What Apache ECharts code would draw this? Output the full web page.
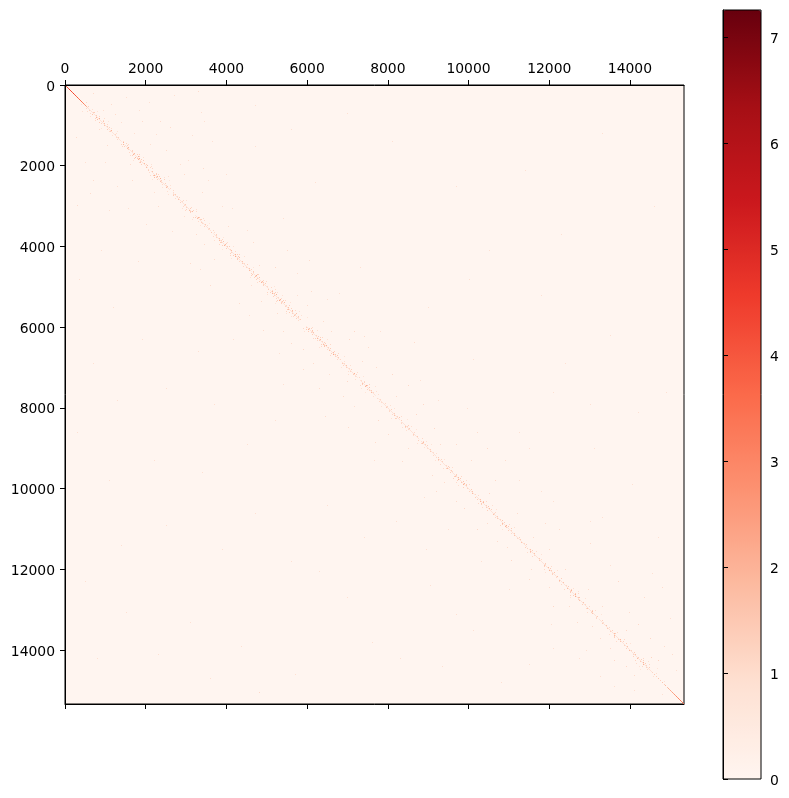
<!DOCTYPE html>
<html>
<head>
<meta charset="utf-8">
<title>Contact matrix</title>
<script src="https://cdn.jsdelivr.net/npm/echarts@6/dist/echarts.min.js"></script>
<style>
  html, body { margin: 0; padding: 0; background: #fff; }
  #chart { width: 789px; height: 798px; }
</style>
</head>
<body>
<div id="chart"></div>
<script>
const matrixSize = 15340;
const binWidth = 25;
const xTicks = [0, 2000, 4000, 6000, 8000, 10000, 12000, 14000];
const yTicks = [0, 2000, 4000, 6000, 8000, 10000, 12000, 14000];
const barTicks = [0, 1, 2, 3, 4, 5, 6, 7];
const barMax = 7.26;
const reds = ["#fff5f0", "#fee0d2", "#fcbba1", "#fc9272", "#fb6a4a", "#ef3b2c", "#cb181d", "#a50f15", "#67000d"];

// faint thread of the diagonal, null = visible gap
const diagThread = [550, 1400, null, 1480, 2050, null, 2130, 2600, null, 2680, 3150, null, 3230, 3620, null, 3680, 4620, null, 4660, 5050, null, 5090, 5820, null, 5980, 6800, null, 6860, 7250, null, 7310, 7700, null, 7770, 8300, null, 8350, 8780, null, 8820, 9200, null, 9260, 10150, null, 10190, 11450, null, 11500, 12200, null, 12250, 13180, null, 13230, 14550];

// strong start and end of the diagonal: position, value
const diagStart = [
  [25,3.6],[50,4.2],[75,3.9],[100,4.4],[125,4.1],[150,4.3],[175,3.7],[200,4.5],[225,3.8],[250,4.0],
  [275,3.5],[300,3.9],[325,3.3],[350,3.6],[375,3.2],[400,3.4],[425,3.0],[450,3.1],[475,2.5],[500,2.7],
  [525,2.0],[550,2.2],[575,1.7],[600,1.9],[625,1.5],[650,1.7],[675,1.3],[700,1.6],[725,1.2],[750,1.5],
  [775,1.1],[800,1.4],[825,1.2],[850,1.6],[875,1.0],[900,1.3],[925,1.0],[950,1.2]
];
const diagEnd = [
  [14550,1.2],[14600,1.4],[14650,1.2],[14700,1.5],[14750,1.3],[14800,1.6],[14850,1.4],[14875,1.8],[14925,1.6],[14950,2.0],
  [14975,1.7],[15000,2.2],[15025,1.9],[15050,2.4],[15075,2.1],[15100,2.6],[15125,2.3],[15150,2.8],[15175,2.5],[15200,3.0],
  [15225,2.7],[15250,3.2],[15275,2.9],[15300,3.3],[15325,3.4]
];

// speckles next to the diagonal: position, offset from it, value
const nearDiag = [
  [420,100,1.1],[470,-75,.9],[520,50,1.3],[560,-50,1.1],[600,75,.9],[640,-100,1.0],[680,50,1.4],[720,-50,1.6],[760,75,1.2],[790,-25,2.0],
  [820,25,2.2],[850,-50,1.8],[880,50,1.6],[910,-75,1.4],[940,25,1.6],[970,75,1.1],[1000,-25,1.6],[1040,50,1.3],[1080,-50,1.4],[1110,25,2.0],
  [1150,-25,1.3],[1190,75,.9],[1230,-75,.9],[1280,25,1.3],[1350,-50,1.1],[1420,25,2.0],[1450,-25,1.8],[1490,50,1.3],[1530,25,2.0],[1560,-25,1.8],
  [1600,50,1.3],[1650,-75,1.1],[1690,25,1.8],[1720,-25,2.0],[1750,50,2.0],[1780,-50,1.8],[1810,25,2.2],[1840,-25,2.0],[1870,75,1.4],[1900,-50,1.6],
  [1930,25,1.8],[1960,-75,1.3],[1990,50,1.6],[2030,-25,1.8],[2060,100,1.1],[2100,-50,1.3],[2140,25,1.6],[2190,75,1.3],[2220,-25,2.0],[2250,25,2.0],
  [2280,-75,1.8],[2310,50,2.0],[2340,125,1.3],[2370,-25,1.6],[2420,50,1.3],[2460,-50,1.1],[2500,25,1.6],[2540,-25,1.8],[2590,75,1.1],[2630,-100,.9],
  [2690,25,1.4],[2730,-50,1.4],[2780,50,1.3],[2820,-25,1.6],[2860,75,1.1],[2900,-50,1.3],[2950,25,1.4],[2990,-75,1.1],[3030,100,1.1],[3060,50,1.4],
  [3090,-25,1.8],[3120,25,1.8],[3140,-50,1.3],[3260,25,2.0],[3290,-25,1.8],[3320,50,1.4],[3350,100,1.1],[3400,-25,1.3],[3450,25,1.4],[3500,-50,1.3],
  [3550,25,1.3],[3600,75,1.1],[3650,-25,1.4],[3700,50,1.3],[3740,-75,1.1],[3790,25,1.6],[3830,-25,1.8],[3870,50,1.6],[3900,-50,1.4],[3940,25,1.8],
  [3970,-25,2.0],[4000,75,1.4],[4040,-50,1.4],[4080,25,1.8],[4120,100,1.1],[4160,-75,1.3],[4200,25,2.0],[4230,-25,2.2],[4270,50,1.8],[4310,-50,1.4],
  [4350,25,1.6],[4400,-25,1.4],[4440,75,1.3],[4490,-75,1.1],[4530,25,1.6],[4580,-25,1.8],[4620,50,1.4],[4650,-50,1.3],[4700,25,2.2],[4730,-25,1.8],
  [4770,50,1.6],[4810,-75,1.3],[4850,25,1.8],[4875,-25,2.0],[4910,50,1.4],[4950,-50,1.3],[5000,100,1.1],[5050,-25,1.4],[5100,25,1.8],[5150,-25,2.0],
  [5180,50,2.0],[5220,-75,1.3],[5270,75,1.1],[5310,25,2.0],[5340,-25,2.2],[5370,50,1.8],[5410,-50,1.3],[5460,100,1.3],[5500,25,1.6],[5550,-25,1.8],
  [5580,50,1.8],[5620,-75,1.4],[5660,75,1.6],[5700,-25,1.6],[5730,50,1.4],[5770,-50,1.3],[5800,25,1.3],[6010,25,1.6],[6040,-25,2.0],[6070,50,1.6],
  [6100,-75,1.4],[6130,25,1.6],[6170,-50,1.4],[6210,50,1.4],[6260,-25,2.0],[6290,25,1.8],[6330,-75,1.1],[6370,50,1.3],[6410,-25,1.8],[6440,25,2.0],
  [6480,-50,1.6],[6520,50,1.4],[6570,-25,1.6],[6620,25,1.8],[6660,-25,2.2],[6700,50,1.6],[6740,25,1.4],[6800,-50,1.1],[6850,75,.9],[6900,-25,1.4],
  [6930,25,1.6],[6980,-25,1.3],[7030,50,1.3],[7080,-75,.9],[7130,25,2.0],[7170,-25,1.4],[7230,50,1.1],[7280,-100,.9],[7330,75,1.1],[7380,-25,1.6],
  [7425,25,2.2],[7450,-25,2.0],[7490,50,1.6],[7530,-50,1.3],[7570,25,1.4],[7600,-25,1.8],[7660,100,.9],[7710,-75,.9],[7770,25,1.1],[7830,-50,1.1],
  [7880,50,1.1],[7930,125,.9],[7990,-25,1.4],[8030,50,1.3],[8080,-50,1.1],[8130,25,1.3],[8180,-25,1.6],[8220,50,1.6],[8260,-75,1.3],[8310,25,1.3],
  [8370,-50,1.1],[8420,75,1.3],[8460,-25,1.6],[8500,25,1.4],[8550,-100,.9],[8600,50,1.1],[8650,-25,1.3],[8700,25,1.4],[8750,100,1.1],[8800,-50,1.3],
  [8840,25,1.8],[8880,-25,1.6],[8920,50,1.3],[8970,-75,.9],[9020,25,1.3],[9070,-25,1.4],[9120,75,.9],[9170,-50,1.1],[9230,25,1.4],[9280,-25,1.6],
  [9330,25,1.3],[9380,-75,1.1],[9430,50,1.4],[9480,-25,1.8],[9530,25,1.4],[9580,-50,1.3],[9630,50,1.3],[9680,-25,1.6],[9720,25,1.8],[9760,-25,2.0],
  [9810,50,1.6],[9860,25,1.8],[9900,-25,2.0],[9950,-75,1.3],[10000,50,1.4],[10050,25,1.6],[10100,-25,1.8],[10150,75,1.1],[10200,-50,1.3],[10250,25,1.6],
  [10300,-25,2.0],[10340,25,2.0],[10380,-75,1.3],[10430,50,1.6],[10480,25,1.8],[10520,-50,1.3],[10570,75,1.1],[10620,-25,1.6],[10680,25,1.4],[10730,-25,1.4],
  [10790,50,1.6],[10850,-25,1.8],[10900,25,2.0],[10940,-25,2.0],[10990,75,1.4],[11040,-50,1.3],[11090,25,1.4],[11140,-25,1.6],[11200,50,1.3],[11260,25,1.4],
  [11320,-25,1.6],[11380,50,1.3],[11440,-50,1.3],[11500,25,1.6],[11550,-25,1.8],[11610,25,1.6],[11660,-75,1.1],[11720,25,1.4],[11780,-25,1.4],[11840,50,1.4],
  [11900,-25,1.6],[11950,25,1.8],[12010,-25,2.0],[12060,50,1.6],[12120,-50,1.3],[12170,25,1.6],[12220,75,1.3],[12270,-25,1.8],[12320,25,1.6],[12370,-75,1.1],
  [12420,50,1.4],[12470,-25,1.8],[12520,25,2.0],[12570,-50,1.4],[12620,25,2.0],[12660,-25,2.2],[12700,50,1.6],[12760,-25,1.6],[12810,25,1.6],[12870,-50,1.3],
  [12920,75,1.1],[12970,-25,1.6],[13030,25,1.8],[13090,-25,1.6],[13150,25,1.4],[13210,-50,1.1],[13270,50,1.3],[13330,-25,1.4],[13390,25,1.6],[13450,-25,1.4],
  [13510,50,1.3],[13570,25,1.8],[13630,-25,1.8],[13690,-75,1.3],[13740,25,1.8],[13790,-25,1.6],[13840,75,1.3],[13900,25,1.6],[13950,-50,1.3],[14010,-25,1.8],
  [14060,50,1.4],[14110,25,1.6],[14160,-75,1.3],[14210,-25,1.8],[14260,75,1.3],[14300,25,2.0],[14340,-25,2.0],[14390,-100,1.1],[14430,50,1.4],[14480,-50,1.1],[14560,75,.9],[14640,-75,.9],[14760,75,.8]
];

// second, wider ring of paler speckles round the same clusters
const nearOuter = [
  [640,150,.8],[760,-150,.8],[830,125,1.0],[870,-125,1.1],[900,175,.7],[1060,-175,.7],[1130,150,.8],[1460,100,1.0],[1510,-100,1.1],[1700,125,1.2],
  [1740,-125,1.0],[1790,150,.9],[1820,-100,1.3],[1860,-175,.8],[1950,175,.8],[2010,125,1.0],[2210,100,1.2],[2240,-125,1.1],[2270,175,.9],[2330,-175,.8],
  [2360,225,.7],[2480,125,.8],[2520,-125,.8],[2700,-150,.8],[2840,150,.8],[3040,-150,.9],[3080,175,.9],[3110,-125,1.1],[3130,125,1.0],[3270,-100,1.2],
  [3300,125,1.0],[3310,-175,.8],[3430,150,.7],[3480,-125,.7],[3760,150,.7],[3850,-150,.9],[3880,125,1.0],[3950,-125,1.1],[3990,175,.8],[4060,-175,.7],
  [4190,125,1.2],[4220,-125,1.2],[4250,175,.9],[4290,-175,.8],[4520,150,.7],[4690,100,1.2],[4710,-100,1.3],[4760,-175,.8],[4860,125,1.1],[4890,-125,1.0],
  [4980,200,.7],[5120,125,1.0],[5140,-125,1.2],[5170,-175,.9],[5200,175,.8],[5320,125,1.1],[5350,-125,1.1],[5380,200,.8],[5400,-200,.7],[5570,125,1.1],
  [5590,-125,1.2],[5610,200,.8],[5640,-175,.8],[5690,150,.8],[5720,-125,.9],[5760,225,.7],[6000,125,1.0],[6030,-125,1.1],[6060,175,.9],[6090,-175,.8],
  [6250,125,1.1],[6270,-125,1.1],[6300,200,.8],[6430,125,1.1],[6460,-125,1.1],[6500,-200,.8],[6650,125,1.1],[6680,-125,1.1],[6720,200,.8],[6950,125,.9],
  [7000,-150,.8],[7120,125,1.0],[7150,-125,.9],[7200,175,.7],[7410,125,1.2],[7440,-125,1.1],[7470,200,.8],[7510,-175,.8],[7590,125,.9],[7620,-175,.7],
  [7960,-125,.8],[8010,150,.8],[8210,125,1.0],[8240,-150,.9],[8280,200,.7],[8450,125,.9],[8480,-125,.9],[8520,175,.7],[8830,125,.9],[8860,-125,.9],
  [8900,175,.7],[9260,125,.8],[9300,-125,.8],[9470,125,1.0],[9500,-125,1.0],[9700,125,1.1],[9740,-125,1.2],[9780,150,1.0],[9830,-150,1.0],[9880,125,1.1],
  [9920,-175,.9],[10320,125,1.1],[10350,-125,1.1],[10400,175,.9],[10460,-125,1.0],[10500,175,.8],[10870,125,1.1],[10910,-125,1.2],[10960,175,.9],[11010,-175,.8],
  [11540,125,1.0],[11570,-125,1.0],[11620,175,.8],[11930,125,1.0],[11990,-125,1.1],[12030,175,.9],[12080,-175,.8],[12460,125,.9],[12500,-125,1.1],[12540,175,.9],
  [12600,125,1.1],[12640,-125,1.2],[12680,-175,.9],[12720,175,.8],[13010,125,1.0],[13050,-125,1.0],[13110,175,.7],[13550,125,1.0],[13600,-125,.9],[13720,125,1.1],
  [13770,-125,1.0],[13820,175,.8],[14190,125,1.1],[14240,-125,1.2],[14280,175,.9],[14320,-175,1.0],[14360,125,1.1],[14410,-175,.8],[14440,225,.7],[14470,-225,.7]
];

// pale fill inside the band, between the stronger speckles
const nearFill = [
  [610,-25,1.2],[660,25,1.3],[700,-75,1.0],[740,25,1.4],[810,-75,1.2],[860,75,1.1],[930,-50,1.2],[1020,25,1.3],[1060,75,1.0],[1130,-50,1.0],
  [1210,25,1.1],[1300,-25,1.1],[1380,50,1.0],[1440,75,1.2],[1470,-75,1.2],[1520,-50,1.3],[1590,-25,1.2],[1640,25,1.2],[1710,75,1.3],[1730,-75,1.3],
  [1770,75,1.2],[1800,-25,1.5],[1830,50,1.4],[1880,-25,1.2],[1920,-75,1.1],[1970,25,1.2],[2020,75,1.1],[2090,-25,1.1],[2160,-75,1.0],[2210,50,1.4],
  [2230,-50,1.5],[2260,75,1.4],[2290,-25,1.5],[2320,-50,1.3],[2350,25,1.3],[2410,-25,1.1],[2470,25,1.1],[2560,50,1.1],[2650,25,1.0],[2710,-25,1.1],
  [2760,25,1.1],[2810,-75,1.0],[2880,25,1.1],[2970,-25,1.1],[3020,-25,1.2],[3070,-75,1.2],[3100,75,1.2],[3130,-25,1.4],[3270,-50,1.4],[3280,50,1.4],
  [3310,25,1.3],[3380,-75,1.0],[3430,-25,1.1],[3480,50,1.0],[3570,-25,1.0],[3640,50,1.0],[3720,25,1.1],[3770,-25,1.2],[3810,75,1.2],[3850,25,1.3],
  [3880,-25,1.4],[3920,75,1.3],[3960,-75,1.3],[3990,25,1.4],[4060,25,1.2],[4140,-25,1.2],[4190,75,1.4],[4210,-50,1.5],[4240,50,1.5],[4290,-25,1.3],
  [4370,-50,1.1],[4420,25,1.1],[4510,-25,1.2],[4560,50,1.2],[4640,25,1.2],[4680,-50,1.4],[4690,75,1.4],[4720,25,1.5],[4750,-75,1.2],[4790,-25,1.3],
  [4830,75,1.2],[4860,-50,1.4],[4890,25,1.4],[4930,-25,1.2],[4980,25,1.1],[5070,50,1.1],[5120,-50,1.3],[5130,75,1.3],[5160,25,1.5],[5200,-25,1.3],
  [5250,25,1.1],[5290,-50,1.2],[5320,75,1.4],[5330,-75,1.4],[5360,25,1.5],[5390,-25,1.3],[5440,25,1.1],[5480,-25,1.2],[5530,75,1.2],[5560,-50,1.4],
  [5600,25,1.4],[5640,-25,1.3],[5680,25,1.3],[5720,-75,1.1],[5750,25,1.1],[5820,-50,1.0],[6000,-25,1.3],[6030,75,1.3],[6050,-75,1.4],[6090,25,1.3],
  [6120,-25,1.2],[6190,25,1.2],[6240,75,1.3],[6270,-75,1.3],[6310,-25,1.3],[6350,25,1.1],[6400,50,1.3],[6420,-75,1.3],[6450,-25,1.5],[6500,25,1.2],
  [6550,-50,1.1],[6600,75,1.3],[6640,-50,1.4],[6670,25,1.5],[6720,-25,1.2],[6780,25,1.1],[6880,25,1.1],[6950,-50,1.2],[7010,25,1.1],[7100,-25,1.2],
  [7150,50,1.3],[7200,-25,1.0],[7310,25,1.0],[7360,50,1.2],[7400,-50,1.4],[7440,50,1.5],[7470,-25,1.3],[7550,-25,1.2],[7620,25,1.1],[7750,-25,1.0],
  [7860,-25,1.0],[7960,25,1.1],[8050,-25,1.0],[8150,-50,1.1],[8200,25,1.2],[8240,-25,1.2],[8340,-25,1.0],[8440,25,1.2],[8480,-50,1.2],[8530,-25,1.1],
  [8680,-50,1.0],[8820,50,1.2],[8860,-50,1.2],[8900,25,1.2],[9000,-25,1.0],[9100,25,1.0],[9210,-25,1.1],[9260,50,1.2],[9300,-50,1.1],[9410,25,1.1],
  [9460,50,1.3],[9500,-50,1.3],[9560,25,1.1],[9660,25,1.2],[9700,-50,1.4],[9740,50,1.5],[9780,-75,1.3],[9840,-25,1.5],[9880,50,1.4],[9920,25,1.4],
  [9980,-25,1.2],[10070,-50,1.2],[10130,25,1.1],[10270,-50,1.3],[10320,50,1.5],[10360,-50,1.4],[10410,25,1.3],[10460,-25,1.4],[10500,50,1.3],[10600,25,1.1],
  [10700,-50,1.1],[10760,25,1.2],[10830,50,1.3],[10870,-50,1.4],[10920,50,1.5],[10960,-25,1.4],[11020,25,1.2],[11110,-50,1.1],[11230,-25,1.1],[11350,25,1.1],
  [11480,-25,1.2],[11530,50,1.3],[11570,-50,1.3],[11640,-25,1.1],[11750,50,1.0],[11870,25,1.1],[11930,-50,1.3],[11980,50,1.4],[12030,25,1.4],[12090,-25,1.2],
  [12200,-25,1.1],[12300,-50,1.2],[12400,25,1.1],[12490,50,1.3],[12540,-25,1.4],[12590,50,1.4],[12640,-50,1.4],[12680,25,1.5],[12740,-25,1.2],[12850,25,1.1],
  [12950,-50,1.1],[13010,50,1.3],[13060,-25,1.3],[13180,-25,1.1],[13300,25,1.0],[13420,50,1.1],[13540,-25,1.3],[13590,50,1.3],[13650,-50,1.2],[13720,-25,1.4],
  [13770,50,1.3],[13880,-25,1.2],[13990,25,1.2],[14090,-25,1.2],[14180,25,1.3],[14230,50,1.3],[14270,-25,1.4],[14320,50,1.4],[14370,25,1.2],[14420,-25,1.2]
];

// sparse faint cells away from the diagonal: x, y, value
const farCells = [
  [700,200,1.0],[1150,480,1.0],[1500,300,.9],[2080,420,.9],[2700,250,.9],[3380,680,.9],[3300,160,1.0],[4700,500,.9],[3450,900,.9],[1900,900,1.0],
  [2600,1050,1.0],[3150,1250,.9],[1000,1900,.9],[280,1300,1.0],[500,1900,.9],[700,2350,1.0],[620,2680,1.0],[300,2980,1.0],[1100,3100,.9],[1300,2500,.9],
  [2500,1600,1.0],[3050,1850,.9],[4000,2200,.9],[4700,1500,.9],[5600,1100,.9],[6200,2400,.9],[4150,3050,.9],[5400,3300,.9],[2000,3450,.9],[2650,3620,.9],
  [900,4100,.9],[1800,4350,.9],[3100,4400,1.0],[3600,4950,1.0],[4300,5400,1.0],[5200,4500,1.1],[5500,4080,1.0],[6050,4340,1.0],[6100,5100,1.0],[6800,5150,.9],
  [7300,4500,.9],[4900,6060,1.0],[4160,6300,.9],[3300,6600,.9],[5600,6400,1.0],[7150,6100,1.1],[7400,6230,1.0],[7500,6500,1.0],[8650,6380,1.0],[9000,5500,.9],
  [10000,4800,.9],[5900,7050,1.0],[5400,7400,.9],[6300,7500,1.0],[7000,7330,1.1],[8100,7150,1.1],[8500,7440,1.1],[8870,7900,1.1],[9150,8500,1.1],[6450,8200,1.0],
  [5200,8300,.9],[7020,8470,1.0],[7680,8850,1.0],[8350,9320,1.0],[9100,9660,1.0],[9700,8900,1.0],[10200,8600,1.0],[10450,9000,1.1],[10650,9800,1.1],[10900,9300,1.0],
  [11250,8600,.9],[12100,7600,.9],[13100,9000,.9],[14200,8100,.9],[11800,10060,.9],[12250,11000,1.0],[11900,10850,1.0],[13000,11350,1.0],[13300,10700,.9],[14050,9900,.9],
  [14700,11200,.9],[14800,12450,1.0],[14350,12700,1.0],[13700,12300,1.1],[13980,13050,1.0],[14500,13700,1.1],[14850,13900,1.0],[15050,14100,1.0],[14520,14180,1.2],[14200,13350,1.1],
  [9200,10050,1.0],[9900,10480,1.1],[10200,11000,1.1],[10700,11300,1.0],[11050,11780,1.1],[11500,12250,1.0],[12100,12900,1.1],[12700,13300,1.0],[13250,13700,1.0],[13600,14250,1.1],
  [13900,14400,1.1],[14100,14620,1.0],[13250,14650,.9],[12750,14200,.9],[12100,13950,.9],[11500,14350,.9],[10800,14800,.9],[10100,13500,.9],[9700,13100,.9],[9050,12400,.9],
  [9350,14400,.9],[8300,14200,.9],[7600,13800,.9],[7000,12700,.9],[6300,12050,.9],[5700,14600,.9],[4800,15050,1.1],[4350,13900,.9],[3600,14700,.9],[3100,13300,.9],
  [2300,14100,.9],[1500,13050,.9],[800,14200,.9],[500,12300,.9],[1400,11400,.9],[2500,10900,.9],[3900,11500,.9],[4700,10600,.9],[5600,11800,.9],[6500,10400,.9],
  [7400,11200,.9],[8200,10800,.9],[8950,11500,.9],[1100,9800,.9],[2200,9300,.9],[3400,9600,.9],[4500,8900,.9],[300,8600,.9],[1300,7800,.9],[2500,7500,.9],
  [3700,7900,.9],[700,6900,.9],[1900,6300,.9],[1200,5500,.9],[350,4800,.9],[11400,2100,.9],[13300,1200,.9],[9700,2500,.9],[8100,1400,.9],[7000,700,.9],
  [12300,3700,.9],[14600,3000,.9],[10500,4100,.9],[11800,5200,.9],[13500,6200,.9],[10100,6800,.9],[12400,6900,.9],[14900,7600,.9],[11500,9000,.9],[13000,7900,.9],
  [1250,720,1.0],[1840,620,.9],[2350,880,1.0],[2250,1220,.9],[3650,1400,.9],[3420,2050,1.0],[2950,2200,1.0],[3400,2650,1.0],[2200,2650,.9],[1650,2350,1.0],
  [1050,1480,1.0],[850,1100,1.0],[1600,1950,1.0],[1550,3050,.9],[2300,3000,1.0],[3250,3700,1.0],[4050,3500,1.0],[4650,3900,1.0],[4800,4450,1.0],[3700,4300,1.0],
  [3450,3950,1.0],[5200,5050,1.0],[5250,5650,1.0],[4850,5350,1.0],[6000,5450,1.0],[6400,5850,1.0],[5750,5200,.9],[5400,6100,1.0],[5900,6550,1.1],[6150,6900,1.0],
  [7050,6300,1.1],[6600,6100,1.0],[7700,7000,1.0],[7350,6850,1.0],[6900,7700,1.0],[7750,8300,1.1],[8200,7700,1.0],[8700,8150,1.1],[8000,8650,1.0],[9300,8900,1.0],
  [8500,9000,1.0],[9400,9850,1.0],[10050,9300,1.0],[10500,10100,1.1],[9700,10300,1.0],[11200,10600,1.0],[10450,10850,1.0],[11600,11200,1.0],[10950,11450,1.0],[12000,11500,1.0],
  [11550,12000,1.0],[12400,12000,1.1],[12000,12450,1.0],[12950,12500,1.0],[12500,12900,1.0],[13300,12900,1.0],[13050,13400,1.0],[13900,13500,1.1],[13500,13950,1.0],[14700,14250,1.2],
  [420,640,.9],[950,620,.9],[1380,920,.9],[1700,1180,.9],[2100,1450,.9],[2850,1950,.9],[2550,2250,.9],[3550,2350,.9],[2950,3250,.9],[3900,3000,.9],
  [4500,3600,.9],[3350,4550,.9],[4600,4950,.9],[5750,4650,.9],[4550,5700,.9],[6500,5300,.9],[5300,6650,.9],[7800,6100,.9],[6550,7150,.9],[7150,7950,.9],
  [8800,7300,.9],[9250,7800,.9],[7650,9300,.9],[9950,8000,.9],[8900,10200,.9],[9500,11000,.9],[11250,9800,.9],[10300,11800,.9],[12100,10300,.9],[11000,12500,.9],
  [13000,10800,.9],[12050,13350,.9],[13500,11900,.9],[12900,14000,.9],[14550,12100,.9],[15000,13200,.9],[14100,15000,.9],[13600,14900,.9],[15150,14500,.9],[14800,15100,.9]
];

// cells go through the axes, colour through the visualMap
const cellData = [];
diagStart.concat(diagEnd).forEach(function (d) { cellData.push([d[0], d[0], d[1]]); });
nearDiag.concat(nearOuter, nearFill).forEach(function (d) { cellData.push([d[0] + d[1], d[0], d[2]]); });
farCells.forEach(function (d) { cellData.push(d); });
cellData.sort(function (a, b) { return a[2] - b[2]; });

const threadData = diagThread.map(function (p) { return p === null ? [null, null] : [p, p]; });

function renderCell(params, api) {
  const c = api.coord([api.value(0), api.value(1)]);
  const s = api.size([binWidth, binWidth]);
  return {
    type: "rect",
    shape: { x: Math.round(c[0]), y: Math.round(c[1]), width: Math.max(1, Math.round(s[0])), height: Math.max(1, Math.round(s[1])) },
    style: { fill: api.visual("color") }
  };
}

function plainLabel(v) { return String(v); }

const tickFont = { fontFamily: "DejaVu Sans", fontSize: 13.9, color: "#000", formatter: plainLabel };
const axisBlack = { lineStyle: { color: "#000", width: 1 } };
const tickBlack = { length: 5, lineStyle: { color: "#000", width: 1 } };

const chart = echarts.init(document.getElementById("chart"), null, { renderer: "canvas" });
chart.setOption({
  animation: false,
  backgroundColor: "#fff",
  grid: [
    { left: 65, top: 85, width: 619, height: 619, show: true, backgroundColor: reds[0], borderColor: "#000", borderWidth: 1 },
    { left: 723, top: 10, width: 38, height: 769, show: true, backgroundColor: "transparent", borderColor: "#000", borderWidth: 1, z: 6 }
  ],
  xAxis: [
    {
      gridIndex: 0, type: "value", position: "top", min: 0, max: matrixSize,
      axisLine: axisBlack, axisTick: Object.assign({ customValues: xTicks }, tickBlack),
      axisLabel: Object.assign({ customValues: xTicks, margin: 9 }, tickFont), splitLine: { show: false }
    },
    {
      gridIndex: 0, type: "value", position: "bottom", min: 0, max: matrixSize,
      axisLine: axisBlack, axisTick: Object.assign({ customValues: xTicks }, tickBlack),
      axisLabel: { show: false }, splitLine: { show: false }
    },
    { gridIndex: 1, type: "value", min: 0, max: 1, show: false }
  ],
  yAxis: [
    {
      gridIndex: 0, type: "value", inverse: true, position: "left", min: 0, max: matrixSize,
      axisLine: axisBlack, axisTick: Object.assign({ customValues: yTicks }, tickBlack),
      axisLabel: Object.assign({ customValues: yTicks, margin: 10, verticalAlign: "top", lineHeight: 4 }, tickFont), splitLine: { show: false }
    },
    {
      gridIndex: 1, type: "value", position: "right", min: 0, max: barMax, z: 7,
      axisLine: axisBlack, axisTick: Object.assign({ customValues: barTicks }, tickBlack),
      axisLabel: Object.assign({ customValues: barTicks, margin: 9, verticalAlign: "top", lineHeight: 4 }, tickFont), splitLine: { show: false }
    }
  ],
  visualMap: {
    type: "continuous", min: 0, max: barMax, dimension: 2, seriesIndex: 1,
    left: 723, top: 10, itemWidth: 38, itemHeight: 769, padding: 0, z: 1,
    calculable: false, realtime: false, hoverLink: false, showLabel: false, text: ["", ""],
    inRange: { color: reds }
  },
  series: [
    {
      type: "line", xAxisIndex: 0, yAxisIndex: 0, data: threadData, symbol: "none", silent: true,
      connectNulls: false, lineStyle: { color: "#fee3d8", width: 1 }
    },
    {
      type: "custom", xAxisIndex: 0, yAxisIndex: 0, data: cellData, renderItem: renderCell, silent: true,
      encode: { x: 0, y: 1 }
    }
  ]
});
window.addEventListener("resize", function () { chart.resize(); });
</script>
</body>
</html>
